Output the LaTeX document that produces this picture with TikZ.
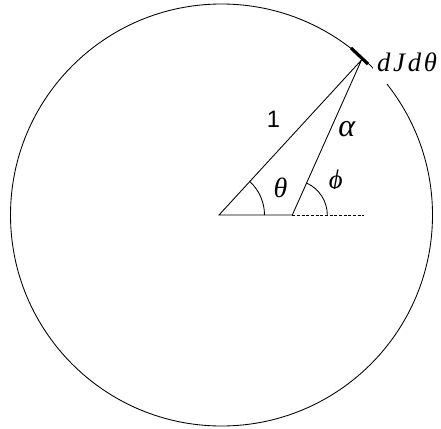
\documentclass[tikz,border=0pt]{standalone}
\usepackage{fontspec}
\newfontfamily\tnr{Liberation Serif}
\newfontfamily\tnrwide[LetterSpace=10]{Liberation Serif}
\newfontfamily\hlv{Liberation Sans}
\usetikzlibrary{calc}
\begin{document}
\begin{tikzpicture}[x=0.75pt,y=-0.75pt,
  thinline/.style={line width=0.65pt},
  dashline/.style={line width=0.65pt,dash pattern=on 2.2pt off 1.3pt},
  tickline/.style={line width=2.4pt},
  lbl/.style={inner sep=0pt,anchor=base}]
\useasboundingbox (0,0) rectangle (441,428);
\coordinate (C) at (221.5,215);
\coordinate (O) at (219,215);
\coordinate (Q) at (292.3,215);
\coordinate (P) at (361.5,60);
\coordinate (E) at (364,215);
\coordinate (T1) at (351,48);
\coordinate (T2) at (368,64);
% circle
\draw[thinline] (C) circle[radius=211];
% triangle
\draw[thinline] (Q) -- (O) -- (P) -- (Q);
\draw[dashline] (Q) -- (E);
% angle arcs
\draw[thinline] ($(O)+(45.5,0)$) arc[start angle=0,end angle=-48,radius=45.5];
\draw[thinline] ($(Q)+(35,0)$) arc[start angle=0,end angle=-66,radius=35];
% element
\draw[tickline] (T1) -- (T2);
% labels
\node[fill=white,anchor=base west,inner xsep=3.5pt,inner ysep=3.5pt,text depth=5.5pt] (lab) at (372.3,71.7)
  {\tnrwide\itshape\fontsize{20}{24}\selectfont dJdθ};
\node[lbl] (one) at (273.5,127.3) {\hlv\fontsize{17.8}{20}\selectfont 1};
\node[lbl] (alpha) at (346.7,136) {\tnr\itshape\fontsize{24}{28}\selectfont α};
\node[lbl] (theta) at (280.5,197) {\tnr\itshape\fontsize{21}{25}\selectfont θ};
\begin{scope}
\clip (320,160) rectangle (360,188.5);
\node[lbl] (phi) at (335.8,188) {\tnr\itshape\fontsize{20}{24}\selectfont ϕ};
\end{scope}
\end{tikzpicture}
\end{document}
